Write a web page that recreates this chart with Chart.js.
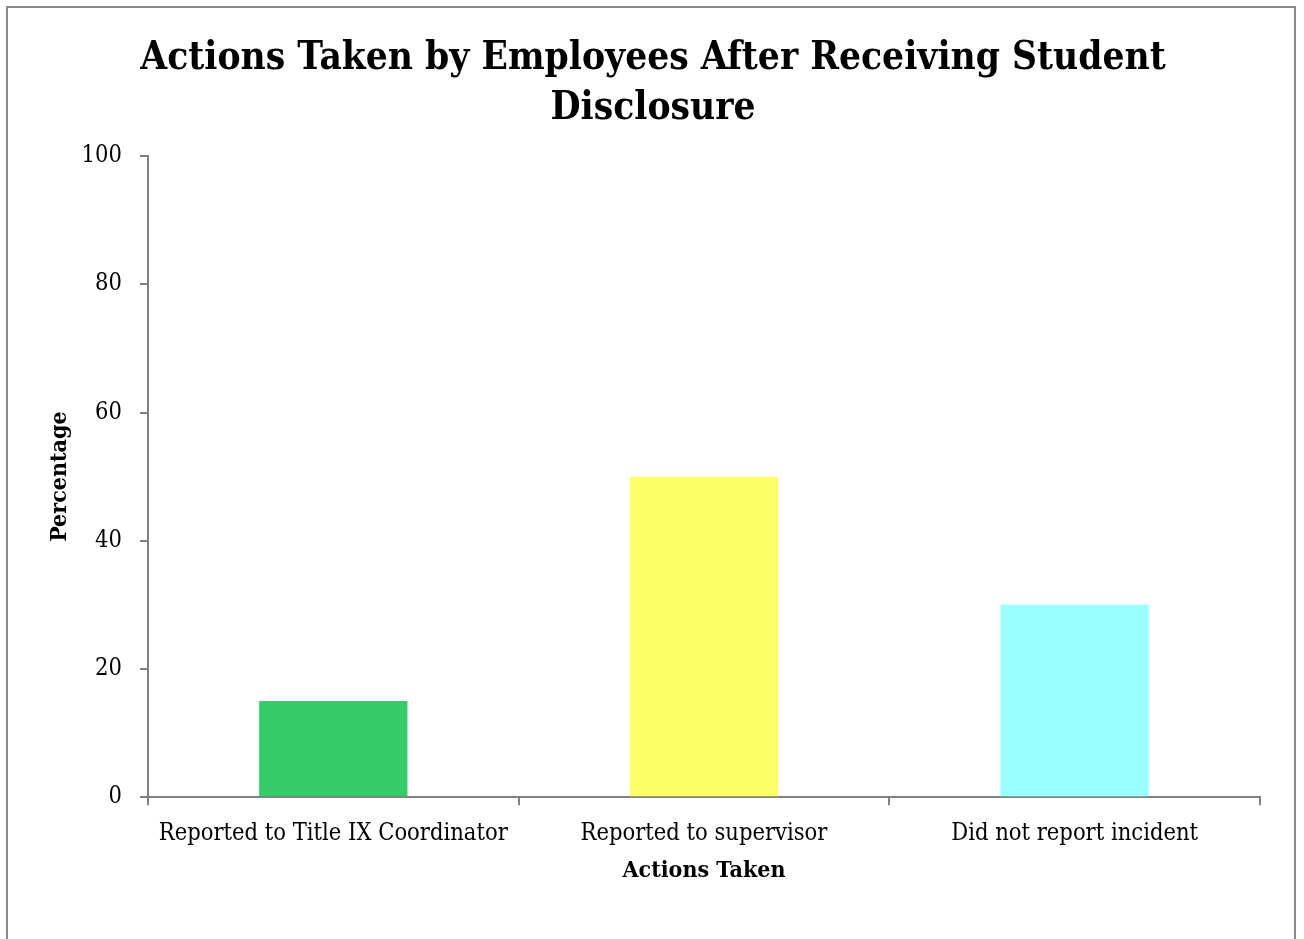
<!DOCTYPE html>
<html>
<head>
<meta charset="utf-8">
<script src="https://cdn.jsdelivr.net/npm/chart.js@4.4.0/dist/chart.umd.min.js"></script>
<style>
  body { margin: 0; background: #fff; }
  #frame {
    position: absolute; left: 6px; top: 6px;
    width: 1290px; height: 960px;
    border: 2px solid #8c8c8c; box-sizing: border-box;
  }
  #wrap { position: absolute; left: 0; top: 0; width: 1286px; height: 956px; }
</style>
</head>
<body>
<div id="frame"><div id="wrap"><canvas id="graph"></canvas></div></div>
<script>
const categories = ['Reported to Title IX Coordinator', 'Reported to supervisor', 'Did not report incident'];
const percentages = [15, 50, 30];
const barColors = ['#36cc67', '#ffff66', '#99ffff'];
const titleLines = ['Actions Taken by Employees After Receiving Student', 'Disclosure'];

const ctx = document.getElementById('graph').getContext('2d');
const axisGray = '#808080';
const serif = "'DejaVu Serif Condensed', 'DejaVu Serif', 'Liberation Serif', serif";

// bar chart, no legend, no grid lines inside plot
const chart = new Chart(ctx, {
  type: 'bar',
  data: {
    labels: categories,
    datasets: [{
      label: 'Percentage',
      data: percentages,
      backgroundColor: barColors,
      borderWidth: 0,
      barPercentage: 0.4,
      categoryPercentage: 1.0,
    }],
  },
  options: {
    responsive: true,
    maintainAspectRatio: false,
    animation: false,
    layout: { padding: { left: 38, right: 34, top: 10, bottom: 79 } },
    plugins: {
      legend: { display: false },
      tooltip: { enabled: false },
      title: {
        display: true,
        text: titleLines,
        color: '#000',
        font: { family: serif, size: 38.5, weight: 'bold', lineHeight: 1.3 },
        padding: { top: 16, bottom: 22 },
      },
    },
    scales: {
      x: {
        grid: { display: true, drawOnChartArea: false, drawTicks: true, tickLength: 8, color: axisGray, lineWidth: 2, offset: true },
        border: { color: axisGray, width: 2 },
        ticks: { color: '#000', font: { family: serif, size: 23.5 }, padding: 15, maxRotation: 0 },
        title: { display: true, text: 'Actions Taken', color: '#000', font: { family: serif, size: 23, weight: 'bold' }, padding: { top: -6, bottom: 0 } },
      },
      y: {
        min: 0,
        max: 100,
        ticks: { stepSize: 20, color: '#000', font: { family: serif, size: 23.5 }, padding: 18 },
        grid: { display: true, drawOnChartArea: false, drawTicks: true, tickLength: 8, color: axisGray, lineWidth: 2 },
        border: { color: axisGray, width: 2 },
        title: { display: true, text: 'Percentage', color: '#000', font: { family: serif, size: 23, weight: 'bold' }, padding: { top: 0, bottom: -10 } },
      },
    },
  },
});
</script>
</body>
</html>
